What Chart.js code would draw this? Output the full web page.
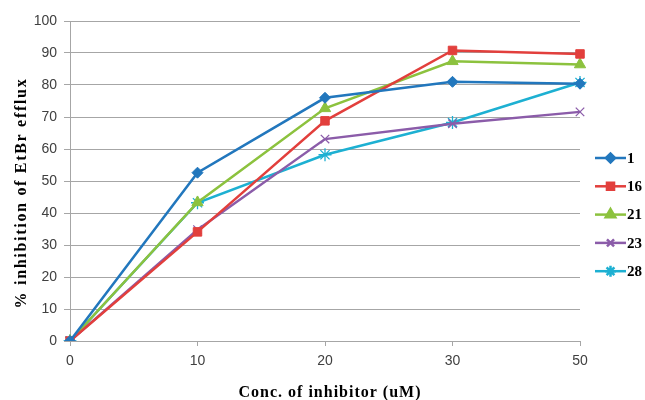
<!DOCTYPE html>
<html>
<head>
<meta charset="utf-8">
<script src="https://cdn.jsdelivr.net/npm/chart.js@4/dist/chart.umd.min.js"></script>
<style>
  html, body { margin: 0; padding: 0; background: #fff; }
  #wrap { width: 645px; height: 400px; }
</style>
</head>
<body>
<div id="wrap"><canvas id="effluxChart"></canvas></div>
<script>
// Data
const concLabels = ["0", "10", "20", "30", "50"];
const yTicks = [0, 10, 20, 30, 40, 50, 60, 70, 80, 90, 100];
const xTitle = "Conc. of inhibitor (uM)";
const yTitle = "% inhibition of EtBr efflux";

const seriesNames = ["1", "16", "21", "23", "28"];
const s1 = [0, 52.6, 76.0, 81.0, 80.4];
const s16 = [0, 34.1, 68.8, 90.8, 89.7];
const s21 = [0, 43.3, 72.7, 87.4, 86.4];
const s23 = [0, 34.8, 63.1, 67.9, 71.6];
const s28 = [0, 43.2, 58.2, 68.3, 80.8];

const colors = ["#2277bd", "#e23f3c", "#8cc23e", "#8b5ca9", "#1db0d2"];
const markers = [
  { style: "rectRot", r: 5.5, fill: true },
  { style: "rect", r: 6, fill: true },
  { style: "triangle", r: 6.5, fill: true },
  { style: "crossRot", r: 6, fill: false },
  { style: "star", r: 6.5, fill: false },
];

const seriesData = [s1, s16, s21, s23, s28];

const datasets = seriesData.map((d, i) => ({
  label: seriesNames[i],
  data: d,
  borderColor: colors[i],
  backgroundColor: colors[i],
  borderWidth: 2.5,
  pointStyle: markers[i].style,
  pointRadius: markers[i].r,
  pointBorderWidth: markers[i].fill ? 1 : 1.3,
  pointBackgroundColor: markers[i].fill ? colors[i] : "transparent",
  pointBorderColor: colors[i],
  tension: 0,
  fill: false,
}));

// legend on the right (short line with marker) + the two axis titles
const sideLegend = {
  id: "sideLegend",
  afterDraw(chart) {
    const ctx = chart.ctx;
    const area = chart.chartArea;
    const x0 = area.right + 15;
    const top = area.top + 137;
    ctx.save();
    seriesNames.forEach((name, i) => {
      const y = top + i * 28.3;
      ctx.strokeStyle = colors[i];
      ctx.lineWidth = 2.5;
      ctx.beginPath();
      ctx.moveTo(x0, y);
      ctx.lineTo(x0 + 31, y);
      ctx.stroke();
      ctx.fillStyle = markers[i].fill ? colors[i] : "rgba(0,0,0,0)";
      ctx.strokeStyle = colors[i];
      Chart.helpers.drawPoint(ctx, {
        pointStyle: markers[i].style,
        radius: markers[i].r - 1,
        borderWidth: markers[i].fill ? 1 : 1.3,
        rotation: 0,
      }, x0 + 15.5, y);
      ctx.fillStyle = "#000";
      ctx.font = "bold 15px 'Liberation Serif'";
      ctx.textAlign = "left";
      ctx.textBaseline = "middle";
      ctx.fillText(name, x0 + 32, y + 1);
    });

    // axis titles (slightly letter-spaced like the original)
    ctx.fillStyle = "#000";
    ctx.font = "bold 16px 'Liberation Serif'";
    ctx.textAlign = "center";
    ctx.textBaseline = "alphabetic";
    ctx.letterSpacing = "1px";
    ctx.fillText(xTitle, (area.left + area.right) / 2 + 5, 397);

    ctx.translate(22, (area.top + area.bottom) / 2 + 12);
    ctx.rotate(-Math.PI / 2);
    ctx.textBaseline = "middle";
    ctx.letterSpacing = "1.7px";
    ctx.fillText(yTitle, 0, 0);
    ctx.restore();
  },
};

new Chart(document.getElementById("effluxChart"), {
  type: "line",
  data: { labels: concLabels, datasets: datasets },
  options: {
    responsive: true,
    maintainAspectRatio: false,
    animation: false,
    layout: { padding: { top: 21, right: 65, left: 0, bottom: 0 } },
    plugins: {
      legend: { display: false },
      tooltip: { enabled: false },
    },
    scales: {
      x: {
        type: "category",
        offset: false,
        grid: {
          display: true,
          drawOnChartArea: false,
          drawTicks: true,
          tickLength: 5,
          color: "#a6a6a6",
        },
        border: { color: "#a6a6a6" },
        ticks: {
          color: "#404040",
          font: { family: "'Liberation Sans'", size: 14 },
          padding: 7,
          maxRotation: 0,
        },
        afterFit: (scale) => { scale.height = 59; },
      },
      y: {
        min: 0,
        max: 100,
        afterBuildTicks: (scale) => { scale.ticks = yTicks.map((v) => ({ value: v })); },
        grid: {
          color: "#a6a6a6",
          tickLength: 6,
        },
        border: { color: "#a6a6a6" },
        ticks: {
          color: "#404040",
          font: { family: "'Liberation Sans'", size: 14 },
          padding: 7,
        },
        afterFit: (scale) => { scale.width = 70; },
      },
    },
  },
  plugins: [sideLegend],
});
</script>
</body>
</html>
